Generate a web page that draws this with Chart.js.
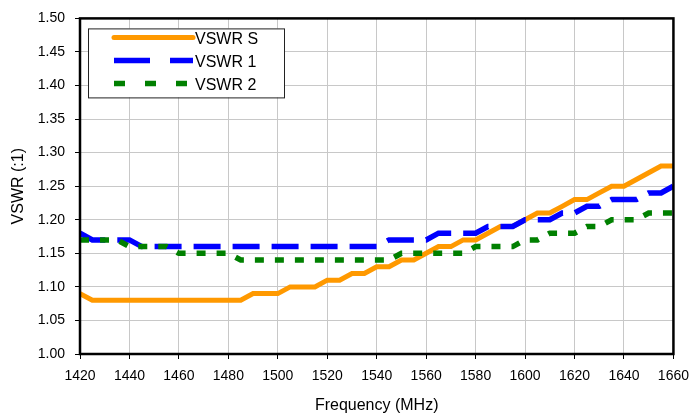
<!DOCTYPE html>
<html>
<head>
<meta charset="utf-8">
<script src="https://cdn.jsdelivr.net/npm/chart.js@4.4.0/dist/chart.umd.min.js"></script>
<style>
  html, body { margin: 0; padding: 0; background: #fff; }
</style>
</head>
<body>
<canvas id="myChart" width="698" height="417"></canvas>
<script>
// frequency points (MHz)
const freqs = [1420, 1425, 1430, 1435, 1440, 1445, 1450, 1455, 1460, 1465, 1470, 1475, 1480, 1485,
    1490, 1495, 1500, 1505, 1510, 1515, 1520, 1525, 1530, 1535, 1540, 1545, 1550, 1555, 1560, 1565,
    1570, 1575, 1580, 1585, 1590, 1595, 1600, 1605, 1610, 1615, 1620, 1625, 1630, 1635, 1640, 1645,
    1650, 1655, 1660];

const vswrS = [1.09, 1.08, 1.08, 1.08, 1.08, 1.08, 1.08, 1.08, 1.08, 1.08, 1.08, 1.08, 1.08, 1.08,
    1.09, 1.09, 1.09, 1.10, 1.10, 1.10, 1.11, 1.11, 1.12, 1.12, 1.13, 1.13, 1.14, 1.14, 1.15, 1.16,
    1.16, 1.17, 1.17, 1.18, 1.19, 1.19, 1.20, 1.21, 1.21, 1.22, 1.23, 1.23, 1.24, 1.25, 1.25, 1.26,
    1.27, 1.28, 1.28];

const vswr1 = [1.18, 1.17, 1.17, 1.17, 1.17, 1.16, 1.16, 1.16, 1.16, 1.16, 1.16, 1.16, 1.16, 1.16,
    1.16, 1.16, 1.16, 1.16, 1.16, 1.16, 1.16, 1.16, 1.16, 1.16, 1.16, 1.17, 1.17, 1.17, 1.17, 1.18,
    1.18, 1.18, 1.18, 1.19, 1.19, 1.19, 1.20, 1.20, 1.20, 1.21, 1.21, 1.22, 1.22, 1.23, 1.23, 1.23,
    1.24, 1.24, 1.25];

const vswr2 = [1.17, 1.17, 1.17, 1.17, 1.16, 1.16, 1.16, 1.16, 1.15, 1.15, 1.15, 1.15, 1.15, 1.14,
    1.14, 1.14, 1.14, 1.14, 1.14, 1.14, 1.14, 1.14, 1.14, 1.14, 1.14, 1.14, 1.15, 1.15, 1.15, 1.15,
    1.15, 1.15, 1.16, 1.16, 1.16, 1.16, 1.17, 1.17, 1.18, 1.18, 1.18, 1.19, 1.19, 1.20, 1.20, 1.20,
    1.21, 1.21, 1.21];

const xTicks = [1420, 1440, 1460, 1480, 1500, 1520, 1540, 1560, 1580, 1600, 1620, 1640, 1660];
const yTicks = [1.00, 1.05, 1.10, 1.15, 1.20, 1.25, 1.30, 1.35, 1.40, 1.45, 1.50];

const FONT = "'Liberation Sans', Arial, sans-serif";

function pts(vals) {
    return vals.map((v, i) => ({ x: freqs[i], y: v }));
}

// frame around the plot + boxed legend in the top-left corner
const frameAndLegend = {
    id: 'frameAndLegend',
    afterDraw(chart) {
        const ctx = chart.ctx;
        const a = chart.chartArea;
        ctx.save();
        ctx.strokeStyle = '#000';
        ctx.lineWidth = 2.5;
        ctx.strokeRect(a.left, a.top, a.right - a.left, a.bottom - a.top);

        const bx = a.left + 8, by = a.top + 10;
        ctx.fillStyle = '#fff';
        ctx.fillRect(bx, by, 196, 69);
        ctx.lineWidth = 1;
        ctx.strokeStyle = '#222';
        ctx.strokeRect(bx + 0.5, by + 0.5, 196, 69);

        ctx.font = '16px ' + FONT;
        ctx.textBaseline = 'middle';
        chart.data.datasets.forEach((ds, i) => {
            const ly = by + 9 + i * 23;
            ctx.beginPath();
            ctx.strokeStyle = ds.borderColor;
            ctx.lineWidth = ds.borderWidth;
            ctx.lineCap = i === 0 ? 'round' : 'butt';
            ctx.setLineDash(ds.legendDash);
            ctx.moveTo(bx + 26, ly);
            ctx.lineTo(bx + 105, ly);
            ctx.stroke();
            ctx.setLineDash([]);
            ctx.fillStyle = '#000';
            ctx.fillText(ds.label, bx + 107, ly + 2);
        });
        ctx.restore();
    }
};

var ctx = document.getElementById('myChart').getContext('2d');
var myChart = new Chart(ctx, {
    type: 'line',
    data: {
        datasets: [
            {
                label: 'VSWR S',
                data: pts(vswrS),
                borderColor: '#FF9900',
                borderWidth: 5,
                borderDash: [],
                legendDash: [],
                order: 3
            },
            {
                label: 'VSWR 1',
                data: pts(vswr1),
                borderColor: '#0000FF',
                borderWidth: 5.5,
                borderDash: [27, 12],
                legendDash: [36, 20],
                order: 2
            },
            {
                label: 'VSWR 2',
                data: pts(vswr2),
                borderColor: '#008000',
                borderWidth: 5.5,
                borderDash: [9, 11],
                legendDash: [11, 20],
                order: 1
            }
        ]
    },
    options: {
        responsive: false,
        animation: false,
        devicePixelRatio: 1,
        layout: { padding: { top: 14, right: 20, left: 0, bottom: 0 } },
        elements: {
            point: { radius: 0 },
            line: { tension: 0, borderJoinStyle: 'miter', borderCapStyle: 'butt' }
        },
        scales: {
            x: {
                type: 'linear',
                min: 1420,
                max: 1660,
                afterBuildTicks: s => { s.ticks = xTicks.map(v => ({ value: v })); },
                afterFit: s => { s.height = 63; },
                title: {
                    display: true,
                    text: 'Frequency (MHz)',
                    color: '#000',
                    font: { family: FONT, size: 16 },
                    padding: { top: 0, bottom: 2 }
                },
                ticks: {
                    color: '#000',
                    font: { family: FONT, size: 14 },
                    padding: 9,
                    maxRotation: 0,
                    callback: v => String(v)
                },
                grid: {
                    color: '#c8c8c8',
                    tickColor: '#000',
                    tickLength: 5
                },
                border: { display: false }
            },
            y: {
                min: 1.0,
                max: 1.5,
                afterBuildTicks: s => { s.ticks = yTicks.map(v => ({ value: v })); },
                afterFit: s => { s.width = 80; },
                title: {
                    display: true,
                    text: 'VSWR (:1)',
                    color: '#000',
                    font: { family: FONT, size: 16 },
                    padding: { top: 9, bottom: 0 }
                },
                ticks: {
                    color: '#000',
                    font: { family: FONT, size: 14 },
                    padding: 10,
                    callback: v => Number(v).toFixed(2)
                },
                grid: {
                    color: '#c8c8c8',
                    tickColor: '#000',
                    tickLength: 5
                },
                border: { display: false }
            }
        },
        plugins: {
            legend: { display: false },
            tooltip: { enabled: false }
        }
    },
    plugins: [frameAndLegend]
});
</script>
</body>
</html>
